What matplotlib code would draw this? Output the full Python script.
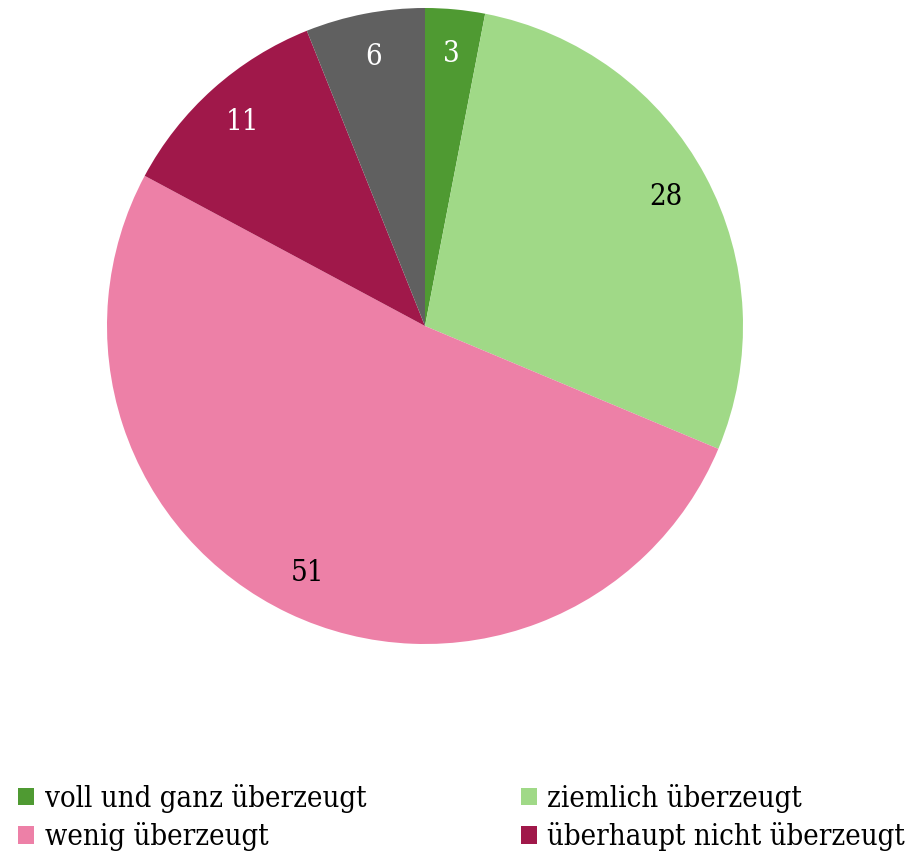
import matplotlib.pyplot as plt
from matplotlib.patches import Patch

# data
labels = ['voll und ganz überzeugt', 'ziemlich überzeugt', 'wenig überzeugt',
          'überhaupt nicht überzeugt', 'weiß nicht']
values = [3, 28, 51, 11, 6]
colors = ['#4F9A32', '#A0D987', '#ED80A7', '#A0184A', '#606060']
text_colors = ['white', 'black', 'black', 'white', 'white']

plt.rcParams['font.family'] = ['DejaVu Serif']

fig = plt.figure(figsize=(9.17, 8.55), dpi=100)
W, H = 917, 855
cx, cy, r = 425, 326, 318
ax = fig.add_axes([(cx - r) / W, (H - cy - r) / H, 2 * r / W, 2 * r / H])

wedges, texts = ax.pie(values, colors=colors, startangle=90, counterclock=False,
                       labels=[str(v) for v in values], labeldistance=0.86,
                       wedgeprops=dict(linewidth=0))
for t, c in zip(texts, text_colors):
    t.set_color(c)
    t.set_fontsize(21)
    t.set_ha('center')
    t.set_va('center')
    t.set_fontstretch('condensed')
ax.set_aspect('equal')
ax.set_xlim(-1, 1)
ax.set_ylim(-1, 1)

# legend: only the first four entries are visible, filled row by row
order = [0, 2, 1, 3]
handles = [Patch(facecolor=colors[i], edgecolor='none') for i in order]
leg = fig.legend(handles, [labels[i] for i in order], ncol=2, loc='upper left',
                 bbox_to_anchor=(0.02, 1 - 784 / H), frameon=False,
                 fontsize=21, handlelength=0.55, handleheight=0.55,
                 handletextpad=0.35, columnspacing=5.3, labelspacing=0.32,
                 borderaxespad=0, borderpad=0)
for t in leg.get_texts():
    t.set_fontstretch('condensed')

fig.savefig('out.png', dpi=100)
